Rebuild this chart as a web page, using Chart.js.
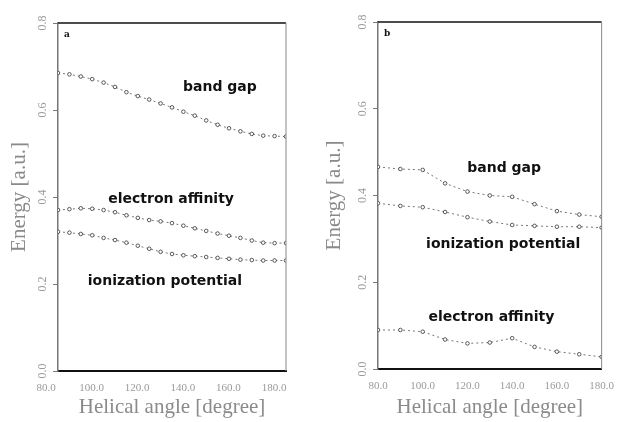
<!DOCTYPE html>
<html><head><meta charset="utf-8">
<script src="https://cdn.jsdelivr.net/npm/chart.js@4"></script>
<style>
html,body{margin:0;padding:0;background:#fff;}
#wrap{position:relative;width:625px;height:422px;overflow:hidden;}
canvas{position:absolute;top:0;}
#ca{left:0;}
#cb{left:312px;}
</style></head><body>
<div id="wrap">
<canvas id="ca" width="312" height="422"></canvas>
<canvas id="cb" width="313" height="422"></canvas>
</div>
<script>
// ---- data ----
const anglesA = [80,85,90,95,100,105,110,115,120,125,130,135,140,145,150,155,160,165,170,175,180];
const bandGapA = [0.685,0.682,0.677,0.671,0.663,0.653,0.641,0.632,0.624,0.615,0.606,0.596,0.587,0.576,0.566,0.558,0.551,0.545,0.541,0.540,0.539];
const electronAffinityA = [0.370,0.372,0.374,0.373,0.370,0.365,0.358,0.352,0.347,0.344,0.340,0.334,0.328,0.322,0.316,0.311,0.306,0.300,0.295,0.294,0.294];
const ionizationPotentialA = [0.320,0.318,0.315,0.312,0.306,0.301,0.295,0.288,0.281,0.274,0.269,0.266,0.264,0.262,0.260,0.258,0.256,0.255,0.254,0.254,0.254];

const anglesB = [80,90,100,110,120,130,140,150,160,170,180];
const bandGapB = [0.466,0.461,0.459,0.428,0.409,0.400,0.397,0.380,0.364,0.356,0.351];
const ionizationPotentialB = [0.382,0.376,0.373,0.362,0.350,0.340,0.332,0.330,0.328,0.328,0.326];
const electronAffinityB = [0.090,0.090,0.086,0.068,0.059,0.061,0.071,0.051,0.040,0.034,0.028];

const xTicks = [80,100,120,140,160,180];
const yTicks = [0.0,0.2,0.4,0.6,0.8];
const seriesNames = ['band gap','electron affinity','ionization potential'];

// ---- helpers ----
function pts(xs, ys){ return xs.map((x,i)=>({x:x,y:ys[i]})); }

function ds(label, xs, ys){
  return {
    label: label,
    data: pts(xs, ys),
    borderColor: '#777',
    borderWidth: 1,
    borderDash: [2,3],
    pointRadius: 1.8,
    pointBorderWidth: 0.8,
    pointBorderColor: '#333',
    pointBackgroundColor: '#fff',
    tension: 0,
    fill: false
  };
}

const panelPlugin = {
  id: 'panel',
  afterDraw(chart, args, o) {
    const ctx = chart.ctx, a = chart.chartArea, x = chart.scales.x, y = chart.scales.y;
    ctx.save();
    // frame: top and right
    ctx.strokeStyle = '#111'; ctx.lineWidth = 1.5;
    ctx.beginPath(); ctx.moveTo(a.left, a.top); ctx.lineTo(a.right, a.top); ctx.stroke();
    ctx.strokeStyle = '#888'; ctx.lineWidth = 1;
    ctx.beginPath(); ctx.moveTo(a.right, a.top); ctx.lineTo(a.right, a.bottom); ctx.stroke();
    // rotated y tick labels
    ctx.fillStyle = '#9a9a9a';
    ctx.font = '12px "Liberation Serif"';
    ctx.textAlign = 'center'; ctx.textBaseline = 'middle';
    yTicks.forEach(v => {
      const py = y.getPixelForValue(v);
      ctx.save();
      ctx.translate(a.left - o.tickGap, py);
      ctx.rotate(-Math.PI/2);
      ctx.fillText(v.toFixed(1), 0, 0);
      ctx.restore();
    });
    // curve annotations
    ctx.fillStyle = '#111';
    ctx.font = 'bold 14px "DejaVu Sans"';
    o.notes.forEach(n => {
      ctx.fillText(n.text, x.getPixelForValue(n.x), y.getPixelForValue(n.y));
    });
    // panel letter
    ctx.font = 'bold 9px "DejaVu Serif"';
    ctx.textAlign = 'left';
    ctx.fillText(o.letter, a.left + 6, a.top + 12);
    ctx.restore();
  }
};

function makeChart(id, datasets, cfg) {
  return new Chart(document.getElementById(id), {
    type: 'line',
    data: { datasets: datasets },
    plugins: [panelPlugin],
    options: {
      responsive: false,
      devicePixelRatio: 1,
      animation: false,
      layout: { padding: { left: 0, top: cfg.top, right: cfg.right, bottom: 0 } },
      plugins: {
        legend: { display: false },
        tooltip: { enabled: false },
        panel: { notes: cfg.notes, letter: cfg.letter, tickGap: 15 }
      },
      scales: {
        x: {
          type: 'linear', min: 80, max: 180,
          afterBuildTicks: s => { s.ticks = xTicks.map(v => ({value: v})); },
          afterFit: s => { s.height = 422 - cfg.bottom; },
          grid: { drawOnChartArea: false, drawTicks: false, color: '#666' },
          border: { color: '#111', width: 2 },
          ticks: {
            color: '#9a9a9a', padding: 11, labelOffset: cfg.xLabelOffset,
            maxRotation: 0, autoSkip: false,
            font: { family: 'Liberation Serif', size: 11 },
            callback: v => v.toFixed(1)
          },
          title: {
            display: true, text: 'Helical angle [degree]', color: '#8a8a8a',
            font: { family: 'Liberation Serif', size: 21 },
            padding: { top: 0, bottom: 2 }
          }
        },
        y: {
          type: 'linear', min: 0, max: 0.8,
          afterBuildTicks: s => { s.ticks = yTicks.map(v => ({value: v})); },
          afterFit: s => { s.width = cfg.left; },
          grid: { drawOnChartArea: false, drawTicks: true, tickLength: 5, color: '#777' },
          border: { color: '#777', width: 1.5 },
          ticks: { display: false },
          title: {
            display: true, text: 'Energy [a.u.]', color: '#8a8a8a',
            font: { family: 'Liberation Serif', size: 21 },
            padding: { top: cfg.yTitlePad, bottom: 0 }
          }
        }
      }
    }
  });
}

makeChart('ca', [
  ds(seriesNames[0], anglesA, bandGapA),
  ds(seriesNames[1], anglesA, electronAffinityA),
  ds(seriesNames[2], anglesA, ionizationPotentialA)
], {
  top: 23, right: 26, bottom: 371, left: 58, yTitlePad: 7, xLabelOffset: -12, letter: 'a',
  notes: [
    {text: seriesNames[0], x: 151, y: 0.653},
    {text: seriesNames[1], x: 129.6, y: 0.395},
    {text: seriesNames[2], x: 126.9, y: 0.205}
  ]
});

makeChart('cb', [
  ds(seriesNames[0], anglesB, bandGapB),
  ds(seriesNames[2], anglesB, ionizationPotentialB),
  ds(seriesNames[1], anglesB, electronAffinityB)
], {
  top: 22, right: 22, bottom: 369, left: 66, yTitlePad: 10, xLabelOffset: 0, letter: 'b',
  notes: [
    {text: seriesNames[0], x: 136.4, y: 0.463},
    {text: seriesNames[2], x: 136, y: 0.288},
    {text: seriesNames[1], x: 130.7, y: 0.120}
  ]
});
</script>
</body></html>
